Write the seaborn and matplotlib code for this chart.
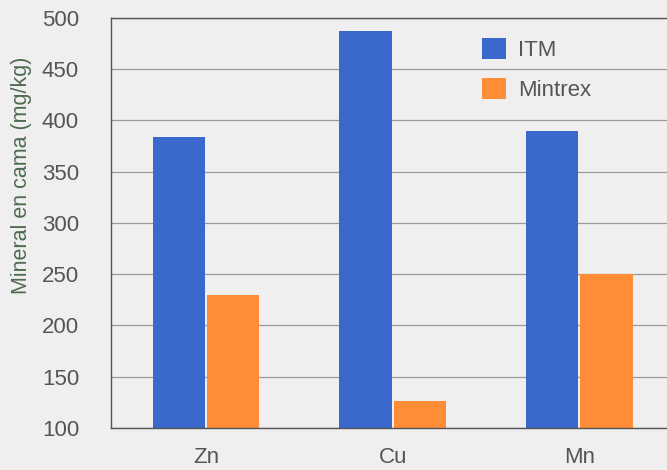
import matplotlib
matplotlib.use("Agg")
import matplotlib.pyplot as plt
import seaborn as sns
import pandas as pd

categories = ["Zn", "Cu", "Mn"]
itm_values = [384, 487, 390]
mintrex_values = [230, 126, 250]
series_names = ["ITM", "Mintrex"]
y_ticks = [100, 150, 200, 250, 300, 350, 400, 450, 500]

df = pd.DataFrame({
    "Mineral": categories * 2,
    "Producto": [series_names[0]] * 3 + [series_names[1]] * 3,
    "Valor": itm_values + mintrex_values,
})

sns.set_theme(style="white")
plt.rcParams['font.family'] = ['Liberation Sans', 'DejaVu Sans']

bg = "#efefef"
fig = plt.figure(figsize=(6.67, 4.70), dpi=100, facecolor=bg)
ax = fig.add_axes([0.1664, 0.0894, 0.8336, 0.8723])
ax.set_facecolor(bg)

sns.barplot(data=df, x="Mineral", y="Valor", hue="Producto",
            palette={"ITM": "#3a68cc", "Mintrex": "#ff8d38"},
            width=0.58, gap=0.03, saturation=1, linewidth=0,
            ax=ax, legend=True)

ax.set_ylim(100, 500)
ax.set_xlim(-0.51, 2.47)
ax.set_yticks(y_ticks)
ax.yaxis.grid(True, color="#9a9a9a", linewidth=0.9)
ax.set_axisbelow(True)

ax.spines["right"].set_visible(False)
for s in ["left", "bottom", "top"]:
    ax.spines[s].set_color("#555555")
    ax.spines[s].set_linewidth(1.0)

ax.tick_params(axis="both", length=0, labelsize=16, colors="#555555")
ax.tick_params(axis="y", pad=23)
ax.tick_params(axis="x", pad=14)
ax.set_xlabel("")
ax.set_ylabel("Mineral en cama (mg/kg)", fontsize=15.5, color="#4f6b4f")
ax.yaxis.set_label_coords(-0.142, 0.617)

leg = ax.legend(loc="upper left", bbox_to_anchor=(0.668, 0.951), frameon=False,
                fontsize=16, handlelength=1.05, handleheight=1.1,
                handletextpad=0.55, labelspacing=0.75, borderpad=0, borderaxespad=0)
for t in leg.get_texts():
    t.set_color("#555555")

fig.savefig("out.png", dpi=100, facecolor=bg)
